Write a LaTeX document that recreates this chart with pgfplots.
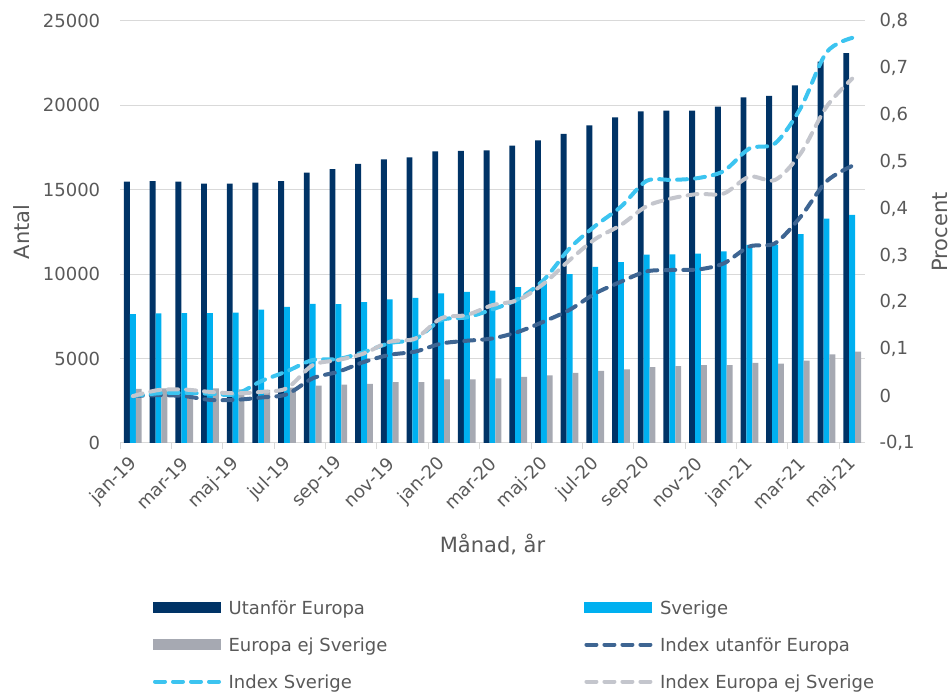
\documentclass[border=0pt]{standalone}
\usepackage{fontspec}
\setmainfont{DejaVu Sans}
\usepackage{pgfplots}
\usepackage{pgfplotstable}
\pgfplotsset{compat=1.18}
\definecolor{cU}{RGB}{0,51,102}
\definecolor{cS}{RGB}{0,176,240}
\definecolor{cE}{RGB}{166,169,178}
\definecolor{iU}{RGB}{62,101,146}
\definecolor{iS}{RGB}{60,196,240}
\definecolor{iE}{RGB}{196,198,205}
\definecolor{gridc}{RGB}{217,217,217}
\definecolor{txt}{RGB}{89,89,89}

\pgfplotstableread{
x U S E IU IS IE
0 15480 7640 3200 0.000 0.000 0.000
1 15520 7680 3240 0.002 0.006 0.013
2 15480 7700 3240 0.000 0.007 0.014
3 15360 7700 3230 -0.008 0.005 0.009
4 15360 7720 3180 -0.008 0.004 0.006
5 15420 7900 3140 -0.003 0.032 0.009
6 15520 8060 3280 0.004 0.053 0.017
7 16010 8240 3400 0.038 0.077 0.066
8 16230 8220 3460 0.052 0.079 0.077
9 16530 8350 3500 0.073 0.094 0.091
10 16800 8510 3610 0.088 0.113 0.116
11 16920 8590 3610 0.095 0.122 0.123
12 17280 8870 3770 0.112 0.162 0.166
13 17300 8950 3770 0.118 0.168 0.173
14 17340 9030 3830 0.123 0.185 0.194
15 17610 9240 3910 0.137 0.207 0.205
16 17930 9560 4010 0.159 0.248 0.240
17 18310 10010 4150 0.184 0.315 0.290
18 18820 10430 4270 0.219 0.363 0.335
19 19290 10720 4360 0.244 0.404 0.365
20 19650 11160 4500 0.266 0.459 0.405
21 19690 11180 4560 0.269 0.461 0.422
22 19690 11220 4620 0.270 0.465 0.431
23 19920 11350 4620 0.283 0.480 0.432
24 20480 11730 4740 0.319 0.528 0.468
25 20560 11750 4700 0.326 0.539 0.461
26 21190 12380 4880 0.383 0.615 0.518
27 22590 13290 5250 0.458 0.733 0.617
28 23100 13510 5410 0.491 0.764 0.677
}\datatable

\begin{document}
\begin{tikzpicture}
\useasboundingbox (0,0) rectangle (952pt,692pt);
\begin{axis}[
  at={(120pt,249pt)}, anchor=south west,
  scale only axis, width=745pt, height=422pt,
  xmin=-0.5, xmax=28.5, ymin=0, ymax=25000, enlargelimits=false,
  ybar=0pt, bar width=5.9pt,
  axis x line*=bottom, axis y line*=left,
  x axis line style={draw=gridc, line width=1pt, -},
  y axis line style={draw=none},
  ytick={0,5000,10000,15000,20000,25000},
  ymajorgrids, grid style={draw=gridc, line width=1pt},
  ytick style={draw=none},
  scaled y ticks=false,
  /pgf/number format/assume math mode=true,
  yticklabel style={/pgf/number format/1000 sep={}, xshift=-12pt},
  xtick={0,2,...,28},
  xticklabels={jan-19,mar-19,maj-19,jul-19,sep-19,nov-19,jan-20,mar-20,maj-20,jul-20,sep-20,nov-20,jan-21,mar-21,maj-21},
  major x tick style={draw=none},
  minor xtick={-0.5,1.5,...,27.5},
  minor x tick style={draw=gridc, line width=1pt},
  tick align=outside, minor tick length=6pt,
  ticklabel style={font=\fontsize{18}{21}\selectfont, text=txt},
  xticklabel style={anchor=east, inner sep=0pt, xshift=1pt, yshift=-13pt, rotate=45},
  xlabel={Månad, år}, ylabel={Antal},
  every axis x label/.style={at={(axis description cs:0.5,-0.2417)}, anchor=center},
  every axis y label/.style={at={(axis description cs:-0.1315,0.5)}, anchor=center, rotate=90},
  label style={font=\fontsize{21}{25}\selectfont, text=txt},
]
\addplot[fill=cU, draw=none] table[x=x, y=U] {\datatable};
\addplot[fill=cS, draw=none] table[x=x, y=S] {\datatable};
\addplot[fill=cE, draw=none] table[x=x, y=E] {\datatable};
\end{axis}
\begin{axis}[
  at={(120pt,249pt)}, anchor=south west,
  scale only axis, width=745pt, height=422pt,
  xmin=-0.5, xmax=28.5, ymin=-0.1, ymax=0.8, enlargelimits=false,
  axis x line=none, axis y line*=right,
  y axis line style={draw=none},
  ytick={-0.1,0,0.1,0.2,0.3,0.4,0.5,0.6,0.7,0.8},
  ytick style={draw=none},
  /pgf/number format/assume math mode=true,
  yticklabel style={/pgf/number format/.cd, fixed, precision=1, use comma, /tikz/.cd, xshift=11pt},
  ticklabel style={font=\fontsize{18}{21}\selectfont, text=txt},
  ylabel={Procent},
  every axis y label/.style={at={(axis description cs:1.1007,0.5)}, anchor=center, rotate=90},
  label style={font=\fontsize{21}{25}\selectfont, text=txt},
  legend columns=2,
  legend style={at={(axis description cs:0.0443,-0.3697)}, anchor=north west,
    draw=none, fill=none, inner sep=0pt, outer sep=0pt,
    font=\fontsize{18}{21}\selectfont, text=txt, row sep=18pt,
    cells={anchor=west},
    nodes={inner sep=0pt, text height=15pt, text depth=4pt},
    /tikz/every odd column/.append style={column sep=7.6pt},
    /tikz/every even column/.append style={column sep=197pt}},
  barimg/.style={legend image code/.code={\fill (0pt,-4.5pt) rectangle (67.5pt,6.5pt);}},
  lineimg/.style={legend image code/.code={\draw (2pt,1pt) -- (66pt,1pt);}},
  idx/.style={line width=4pt, dash pattern=on 10pt off 8pt, line cap=round, smooth, tension=0.5, no marks},
]
\addlegendimage{fill=cU, draw=none, barimg}
\addlegendentry{Utanför Europa}
\addlegendimage{fill=cS, draw=none, barimg}
\addlegendentry{Sverige}
\addlegendimage{fill=cE, draw=none, barimg}
\addlegendentry{Europa ej Sverige}
\addplot[idx, draw=iU, lineimg] table[x=x, y=IU] {\datatable};
\addlegendentry{Index utanför Europa}
\addplot[idx, draw=iS, lineimg] table[x=x, y=IS] {\datatable};
\addlegendentry{Index Sverige}
\addplot[idx, draw=iE, lineimg] table[x=x, y=IE] {\datatable};
\addlegendentry{Index Europa ej Sverige}
\end{axis}
\end{tikzpicture}
\end{document}
